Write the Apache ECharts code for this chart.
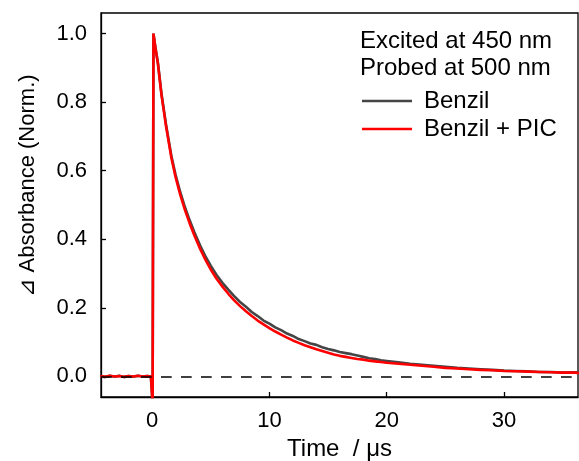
<!DOCTYPE html>
<html>
<head>
<meta charset="utf-8">
<script src="https://cdn.jsdelivr.net/npm/echarts@6/dist/echarts.min.js"></script>
<style>
html,body{margin:0;padding:0;background:#fff;}
#chart{width:579px;height:461px;}
</style>
</head>
<body>
<div id="chart"></div>
<script>
const timeUs = [-4.4,-4.0,-3.6,-3.2,-2.8,-2.4,-2.0,-1.6,-1.2,-0.8,-0.4,-0.1,0.0,0.05,0.12,0.3,0.5,0.8,1.2,1.65,2.0,2.4,2.8,3.2,3.6,4.1,4.6,5.0,5.5,6.0,6.5,7.0,7.5,8.0,8.5,9.0,9.5,10,10.5,11,11.5,12,12.5,13,13.5,14,14.5,15,15.5,16,16.5,17,17.5,18,18.5,19,19.5,20,21,22,23,24,25,26,27,28,29,30,31,32,33,34,35,36,36.4];
const benzil = [0.001,-0.002,0.002,-0.001,0.002,-0.002,0.001,-0.001,0.002,0.000,0.001,0.000,0.000,-0.08,1.00,0.957,0.915,0.826,0.733,0.643,0.589,0.538,0.494,0.456,0.421,0.382,0.347,0.323,0.296,0.273,0.253,0.234,0.217,0.203,0.188,0.176,0.163,0.154,0.143,0.135,0.125,0.118,0.109,0.103,0.096,0.092,0.085,0.080,0.076,0.071,0.068,0.065,0.061,0.057,0.053,0.051,0.047,0.045,0.041,0.037,0.034,0.031,0.028,0.025,0.023,0.021,0.019,0.017,0.016,0.015,0.013,0.013,0.011,0.012,0.011];
const benzilPic = [0.001,-0.001,0.002,0.000,0.001,-0.001,0.001,0.000,0.002,0.000,0.001,0.000,0.000,-0.08,1.00,0.955,0.912,0.822,0.728,0.637,0.582,0.530,0.486,0.447,0.412,0.372,0.337,0.312,0.285,0.262,0.241,0.222,0.205,0.190,0.176,0.163,0.152,0.141,0.131,0.122,0.113,0.105,0.098,0.091,0.085,0.079,0.074,0.069,0.064,0.060,0.057,0.054,0.051,0.049,0.046,0.044,0.042,0.040,0.037,0.034,0.031,0.028,0.025,0.023,0.021,0.019,0.018,0.016,0.015,0.014,0.013,0.012,0.011,0.011,0.010];
const xTicks = [0,10,20,30];
const yTicks = [0,0.2,0.4,0.6,0.8,1.0];
const seriesNames = ['Benzil','Benzil + PIC'];
const headerLines = ['Excited at 450 nm','Probed at 500 nm'];

const FONT = '"Liberation Sans", Arial, sans-serif';
const chart = echarts.init(document.getElementById('chart'));
const pairs = (ys) => timeUs.map((t, i) => [t, ys[i]]);

chart.setOption({
  animation: false,
  backgroundColor: '#fff',
  textStyle: { fontFamily: FONT },
  grid: { left: 101, right: 1, top: 13, bottom: 64, outerBoundsMode: 'none', containLabel: false, show: true, borderColor: '#000', borderWidth: 1.3, backgroundColor: 'transparent' },
  title: {
    text: headerLines.join('\n'),
    left: 360, top: 28, padding: 0,
    textStyle: { fontFamily: FONT, fontSize: 24, fontWeight: 'normal', color: '#000', lineHeight: 27 }
  },
  legend: {
    orient: 'vertical', left: 362, top: 89, padding: 0,
    icon: 'rect', itemWidth: 50, itemHeight: 2.5, itemGap: 4,
    data: seriesNames,
    textStyle: { fontFamily: FONT, fontSize: 24, color: '#000', padding: [0, 0, 0, 7] }
  },
  xAxis: {
    type: 'value', min: -4.35, max: 36.3,
    name: 'Time  / μs', nameLocation: 'middle', nameGap: 35,
    nameTextStyle: { fontFamily: FONT, fontSize: 24, color: '#000' },
    axisLine: { show: true, onZero: false, lineStyle: { color: '#000', width: 1.3 } },
    axisTick: { show: true, inside: true, length: 5, customValues: xTicks, lineStyle: { color: '#000', width: 1.3 } },
    axisLabel: { show: true, customValues: xTicks, margin: 13, fontSize: 22, color: '#000', fontFamily: FONT },
    splitLine: { show: false }
  },
  yAxis: {
    type: 'value', min: -0.06, max: 1.06,
    name: '⊿ Absorbance (Norm.)', nameLocation: 'middle', nameGap: 62,
    nameTextStyle: { fontFamily: FONT, fontSize: 22, color: '#000', padding: [0, 0, 0, 39] },
    axisLine: { show: true, onZero: false, lineStyle: { color: '#000', width: 1.3 } },
    axisTick: { show: true, inside: true, length: 5, customValues: yTicks, lineStyle: { color: '#000', width: 1.3 } },
    axisLabel: { show: true, customValues: yTicks, margin: 14, fontSize: 22, color: '#000', fontFamily: FONT, formatter: (v) => v.toFixed(1) },
    splitLine: { show: false }
  },
  series: [
    {
      name: seriesNames[0], type: 'line', data: pairs(benzil),
      showSymbol: false, symbol: 'none', z: 2,
      color: '#454545',
      lineStyle: { color: '#454545', width: 2.6 },
      markLine: {
        silent: true, symbol: 'none', label: { show: false },
        lineStyle: { color: '#000', width: 1.5, type: [10.7, 9.3] },
        data: [{ yAxis: 0 }]
      }
    },
    {
      name: seriesNames[1], type: 'line', data: pairs(benzilPic),
      showSymbol: false, symbol: 'none', z: 3,
      color: '#ff0000',
      lineStyle: { color: '#ff0000', width: 2.6 }
    }
  ]
});
</script>
</body>
</html>
